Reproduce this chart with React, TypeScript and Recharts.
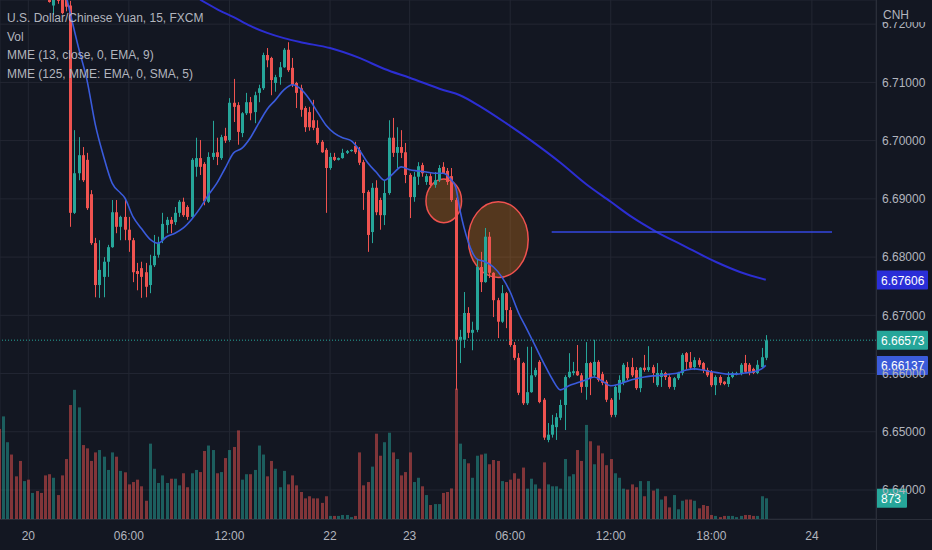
import React from "react";
import {
  Bar,
  CartesianGrid,
  ComposedChart,
  Line,
  ReferenceArea,
  ReferenceLine,
  XAxis,
  YAxis,
} from "recharts";

// USD/CNH 15m candles. Candle index 0 is the first
// (volume-only) bar at the left edge; the first 12 candles sit above the pane.
const FIRST_CANDLE = 12;

const open = [
  6.725, 6.7232, 6.725, 6.725, 6.7245, 6.7232, 6.6876, 6.6944, 6.6975, 6.6967,
  6.6908, 6.6824, 6.6752, 6.6766, 6.6792, 6.6817, 6.6877, 6.6852, 6.6869, 6.6847,
  6.6829, 6.6776, 6.6781, 6.6774, 6.6752, 6.6786, 6.6804, 6.6829, 6.6855, 6.6864,
  6.686, 6.6876, 6.6895, 6.6886, 6.6869, 6.6955, 6.697, 6.696, 6.6895, 6.6972,
  6.698, 6.697, 6.7008, 6.7001, 6.7065, 6.7061, 6.7013, 6.7047, 6.7066, 6.7049,
  6.7082, 6.709, 6.7147, 6.7142, 6.7099, 6.7109, 6.7126, 6.7156, 6.7125, 6.7099,
  6.709, 6.7056, 6.7049, 6.7035, 6.7022, 6.6998, 6.6984, 6.6953, 6.6972, 6.6967,
  6.697, 6.6979, 6.6982, 6.6991, 6.6984, 6.6963, 6.6912, 6.6843, 6.6919, 6.6898,
  6.6872, 6.691, 6.7005, 6.6979, 6.6989, 6.698, 6.6941, 6.6903, 6.6938, 6.6958,
  6.6929, 6.6939, 6.6924, 6.6932, 6.6955, 6.6948, 6.6939, 6.6898, 6.6658, 6.6658,
  6.6704, 6.667, 6.6675, 6.6783, 6.6757, 6.6835, 6.6773, 6.6726, 6.6689, 6.6738,
  6.6709, 6.6649, 6.6627, 6.6618, 6.6549, 6.6568, 6.6597, 6.662, 6.6555, 6.6486,
  6.6495, 6.6508, 6.6524, 6.6546, 6.6594, 6.6601, 6.6604, 6.6597, 6.6577, 6.6618,
  6.6597, 6.662, 6.6599, 6.6586, 6.6555, 6.6529, 6.6567, 6.6584, 6.6611, 6.6611,
  6.6606, 6.6575, 6.661, 6.6606, 6.6611, 6.658, 6.6594, 6.6601, 6.6594, 6.6577,
  6.6592, 6.6601, 6.6635, 6.662, 6.6611, 6.6623, 6.6618, 6.6606, 6.6603, 6.658,
  6.6594, 6.6586, 6.6582, 6.6594, 6.6599, 6.6601, 6.6618, 6.6615, 6.6608, 6.6601,
  6.6611, 6.6627,
];
const high = [
  6.7255, 6.725, 6.7255, 6.7255, 6.725, 6.724, 6.7018, 6.7006, 6.6989, 6.6979,
  6.6915, 6.6833, 6.6829, 6.68, 6.6821, 6.6898, 6.6898, 6.6871, 6.6898, 6.6869,
  6.6833, 6.679, 6.6792, 6.679, 6.6804, 6.6838, 6.6835, 6.6876, 6.6869, 6.6869,
  6.6886, 6.6898, 6.6902, 6.6889, 6.697, 6.7005, 6.7001, 6.6963, 6.698, 6.7034,
  6.7005, 6.701, 6.7022, 6.7073, 6.7106, 6.7066, 6.7049, 6.7082, 6.7075, 6.7084,
  6.7096, 6.7151, 6.7159, 6.7144, 6.7113, 6.7135, 6.7159, 6.7169, 6.7142, 6.7101,
  6.7096, 6.7059, 6.7058, 6.707, 6.7035, 6.7001, 6.6987, 6.6979, 6.6979, 6.6971,
  6.6986, 6.6984, 6.6985, 6.6998, 6.6989, 6.6967, 6.6915, 6.6927, 6.6932, 6.6902,
  6.6932, 6.7035, 6.7039, 6.7023, 6.7018, 6.6996, 6.6944, 6.6946, 6.6963, 6.6962,
  6.6943, 6.6944, 6.6946, 6.6958, 6.6963, 6.6953, 6.6953, 6.6902, 6.6675, 6.674,
  6.6714, 6.6689, 6.6795, 6.6809, 6.685, 6.6843, 6.6774, 6.673, 6.6752, 6.674,
  6.6714, 6.6654, 6.6635, 6.662, 6.6646, 6.6646, 6.661, 6.6623, 6.6558, 6.6515,
  6.6529, 6.6532, 6.6555, 6.6597, 6.6635, 6.662, 6.6649, 6.6601, 6.6654, 6.662,
  6.6658, 6.6623, 6.6603, 6.6589, 6.6558, 6.658, 6.6597, 6.6618, 6.662, 6.6627,
  6.6611, 6.6611, 6.6632, 6.6647, 6.6615, 6.6618, 6.6606, 6.6603, 6.6597, 6.6594,
  6.6603, 6.6635, 6.6637, 6.6637, 6.6628, 6.6627, 6.662, 6.661, 6.6606, 6.6597,
  6.6597, 6.6587, 6.6603, 6.6603, 6.6603, 6.6618, 6.6632, 6.6618, 6.661, 6.6623,
  6.6644, 6.6666,
];
const low = [
  6.7237, 6.7216, 6.7235, 6.7217, 6.7222, 6.6852, 6.6874, 6.6932, 6.6929, 6.6881,
  6.6821, 6.6731, 6.673, 6.6731, 6.6766, 6.6816, 6.6841, 6.6829, 6.6829, 6.6809,
  6.6757, 6.6743, 6.673, 6.6731, 6.6738, 6.6783, 6.6799, 6.6824, 6.6841, 6.6841,
  6.6855, 6.6869, 6.6869, 6.6864, 6.6867, 6.6938, 6.6941, 6.6889, 6.6893, 6.6967,
  6.6958, 6.6967, 6.6996, 6.6998, 6.7032, 6.6993, 6.7006, 6.7044, 6.7035, 6.703,
  6.7066, 6.7087, 6.7126, 6.7078, 6.7084, 6.7096, 6.7125, 6.7118, 6.7092, 6.7056,
  6.7041, 6.7015, 6.7017, 6.7018, 6.6993, 6.6979, 6.6876, 6.695, 6.6965, 6.6966,
  6.6969, 6.6977, 6.6981, 6.6977, 6.6958, 6.6881, 6.6809, 6.6824, 6.6872, 6.6847,
  6.6855, 6.6907, 6.6972, 6.6953, 6.697, 6.6927, 6.6867, 6.6895, 6.6924, 6.6938,
  6.6924, 6.6919, 6.6919, 6.6929, 6.6943, 6.6924, 6.6895, 6.6572, 6.6618, 6.6644,
  6.6661, 6.664, 6.6671, 6.674, 6.6756, 6.6764, 6.6697, 6.6661, 6.6687, 6.6678,
  6.6646, 6.6623, 6.6563, 6.6546, 6.6546, 6.6567, 6.6594, 6.6549, 6.6486, 6.6482,
  6.649, 6.6486, 6.652, 6.6503, 6.6592, 6.6597, 6.6596, 6.6567, 6.6555, 6.6563,
  6.6594, 6.6586, 6.658, 6.6551, 6.6525, 6.6525, 6.6555, 6.658, 6.6589, 6.6594,
  6.6572, 6.6568, 6.6603, 6.6603, 6.6584, 6.6577, 6.6577, 6.6589, 6.6574, 6.6572,
  6.6589, 6.6597, 6.6606, 6.6606, 6.6606, 6.6611, 6.6601, 6.6594, 6.6577, 6.6563,
  6.658, 6.658, 6.6577, 6.6592, 6.6597, 6.6597, 6.6601, 6.6597, 6.6599, 6.6599,
  6.661, 6.6623,
];
const close = [
  6.7238, 6.7246, 6.724, 6.7219, 6.723, 6.6876, 6.6944, 6.6975, 6.6932, 6.6884,
  6.6824, 6.6752, 6.6778, 6.6792, 6.6817, 6.6877, 6.6852, 6.6869, 6.6847, 6.6829,
  6.6774, 6.6771, 6.6766, 6.6749, 6.6786, 6.6802, 6.6824, 6.6857, 6.6864, 6.6857,
  6.6876, 6.6895, 6.6872, 6.6869, 6.6967, 6.697, 6.6955, 6.6896, 6.6972, 6.6979,
  6.6972, 6.7006, 6.7, 6.7065, 6.7058, 6.7015, 6.7047, 6.7066, 6.7047, 6.7078,
  6.709, 6.7147, 6.7138, 6.7104, 6.7109, 6.7126, 6.7156, 6.7121, 6.7096, 6.7082,
  6.7053, 6.7023, 6.7023, 6.7022, 6.6996, 6.698, 6.6953, 6.6972, 6.6967, 6.697,
  6.6979, 6.6982, 6.6984, 6.698, 6.6962, 6.691, 6.6838, 6.6919, 6.6877, 6.6872,
  6.691, 6.7005, 6.6979, 6.6989, 6.6979, 6.6941, 6.6903, 6.6938, 6.6956, 6.6944,
  6.6939, 6.6924, 6.6932, 6.6953, 6.6944, 6.6929, 6.6898, 6.6658, 6.6663, 6.6704,
  6.667, 6.6675, 6.6783, 6.6757, 6.6835, 6.6773, 6.6726, 6.6689, 6.6738, 6.6709,
  6.6649, 6.6627, 6.6567, 6.6549, 6.6568, 6.6597, 6.6606, 6.6551, 6.649, 6.6495,
  6.6512, 6.6525, 6.6546, 6.6594, 6.6603, 6.6604, 6.6597, 6.6577, 6.6618, 6.6592,
  6.662, 6.6589, 6.6584, 6.6555, 6.6529, 6.6577, 6.6589, 6.6615, 6.6592, 6.6597,
  6.6575, 6.661, 6.6606, 6.6611, 6.6601, 6.6601, 6.6601, 6.6594, 6.6577, 6.6592,
  6.6601, 6.6632, 6.662, 6.661, 6.6623, 6.6615, 6.6606, 6.6597, 6.658, 6.6594,
  6.6584, 6.6582, 6.6594, 6.6601, 6.6601, 6.6615, 6.6603, 6.6603, 6.6601, 6.6615,
  6.6628, 6.6657,
];
// colour of the volume bars whose candle is off the top of the pane
const earlyUp = [false, true, true, false, false, false, true, false, true, false, false, false];

const volume = [
  3800, 4330, 3240, 2720, 1800, 2450, 1600, 1660, 1100, 1180, 1100, 1840, 1890, 1740,
  1010, 1840, 2530, 4810, 5450, 4710, 3120, 2980, 2450, 2810, 2910, 2630, 2070, 2810,
  2630, 2030, 1970, 1460, 1560, 1660, 1380, 770, 3180, 2120, 1520, 1840, 1520, 1700,
  1700, 1420, 1930, 1340, 1930, 2070, 1980, 2870, 3100, 2910, 1930, 1980, 2570, 2910,
  3040, 3740, 1660, 1890, 1890, 2070, 3100, 2720, 1800, 2450, 2120, 1340, 2030, 1460,
  1840, 1420, 1140, 870, 960, 870, 870, 680, 960, 130, 130, 130, 170, 170,
  80, 130, 2810, 1420, 1560, 2210, 3600, 2670, 3240, 3640, 2810, 2530, 1840, 1980,
  2810, 1560, 1740, 1380, 1010, 590, 630, 630, 1100, 1140, 1290, 5500, 3180, 2530,
  2350, 1740, 2670, 2720, 2760, 2310, 2490, 2450, 1600, 1560, 1660, 1930, 1700, 2170,
  1280, 1700, 1460, 1280, 2390, 1460, 1380, 1380, 1280, 2530, 1800, 1890, 2910, 2450,
  3970, 3280, 2310, 3100, 2770, 2270, 2530, 1930, 1740, 1280, 1240, 1460, 1340, 1600,
  960, 1600, 1200, 1280, 820, 960, 490, 1010, 410, 770, 820, 820, 770, 450,
  590, 550, 170, 130, 80, 130, 130, 130, 80, 130, 170, 170, 130, 130,
  960, 873,
];

// MME (13, close, 0, EMA, 9): [candle index, price]
const ema13 = [
  [16, 6.725], [19, 6.7159], [21, 6.7104], [23, 6.7027], [25, 6.6972], [27, 6.6927],
  [29, 6.691], [30, 6.6902], [32, 6.6869], [34, 6.6849], [36, 6.6831], [38, 6.6824],
  [40, 6.6835], [42, 6.6841], [44, 6.685], [46, 6.6865], [48, 6.6884], [50, 6.6907],
  [52, 6.6927], [54, 6.6953], [56, 6.6979], [58, 6.6987], [60, 6.7005], [62, 6.703],
  [64, 6.7054], [66, 6.707], [68, 6.7087], [70, 6.7096], [72, 6.7089], [74, 6.7072],
  [76, 6.7049], [78, 6.7027], [80, 6.7013], [82, 6.7005], [84, 6.7], [86, 6.6984],
  [88, 6.6962], [90, 6.6946], [92, 6.6932], [94, 6.6943], [96, 6.6955], [98, 6.695],
  [100, 6.6948], [102, 6.6946], [104, 6.6944], [106, 6.6944], [108, 6.6932], [109, 6.692],
  [110, 6.6881], [112, 6.6826], [114, 6.6797], [116, 6.6792], [118, 6.6783], [120, 6.6766],
  [122, 6.674], [124, 6.6704], [126, 6.6676], [128, 6.6647], [130, 6.6618], [132, 6.6591],
  [134, 6.6572], [136, 6.6579], [138, 6.6584], [140, 6.6589], [142, 6.6594], [144, 6.6587],
  [146, 6.6579], [148, 6.6582], [150, 6.6587], [152, 6.6591], [154, 6.6594], [156, 6.6596],
  [158, 6.6597], [160, 6.6599], [162, 6.6601], [164, 6.6606], [166, 6.6608], [168, 6.6606],
  [170, 6.6603], [172, 6.6601], [174, 6.6599], [176, 6.6599], [178, 6.6601], [180, 6.6603],
  [182, 6.6608], [183, 6.6614],
];

// MME (125, MME: EMA, 0, SMA, 5)
const sma125 = [
  [48, 6.7242], [52, 6.7226], [56, 6.7212], [60, 6.7197], [64, 6.7185], [68, 6.7176],
  [72, 6.7169], [79, 6.7159], [86, 6.7142], [92, 6.7123], [98, 6.7108], [106, 6.7087],
  [110, 6.7078], [115, 6.7058], [121, 6.703], [127, 6.7], [134, 6.6962], [140, 6.6926],
  [146, 6.6895], [151, 6.6869], [157, 6.6843], [163, 6.6821], [171, 6.6792], [177, 6.6774],
  [183, 6.6761],
];

const timeTicks = [7, 31, 55, 79, 98, 122, 146, 170, 194];
const timeLabels = ["20", "06:00", "12:00", "22", "23", "06:00", "12:00", "18:00", "24"];
const priceTicks = [6.64, 6.65, 6.66, 6.67, 6.68, 6.69, 6.7, 6.71, 6.72];

// drawings on the chart
const trendLine = { from: 131.9, to: 198.8, price: 6.6843 };
const circles = [
  { x1: 101.9, x2: 110.4, y1: 6.6859, y2: 6.6934 },
  { x1: 112.0, x2: 126.3, y1: 6.6765, y2: 6.6895 },
];

const lastClose = 6.66573;
const lastEma = 6.66137;
const lastSma = 6.67606;
const lastVolume = 873;

const BG = "#131722";
const UP = "#26a69a";
const DOWN = "#ef5350";
const TEXT = "#b2b5be";
const EMA_COLOR = "#3a5bdc";
const SMA_COLOR = "#2c2ed2";
const FONT = "'Liberation Sans', Arial, sans-serif";

const rows = volume.map((v, i) => {
  const k = i - FIRST_CANDLE;
  const has = k >= 0;
  return {
    i,
    o: has ? open[k] : null,
    h: has ? high[k] : null,
    l: has ? low[k] : null,
    c: has ? close[k] : null,
    v,
    up: has ? close[k] >= open[k] : earlyUp[i],
    ema: null as number | null,
    sma: null as number | null,
  };
});
ema13.forEach(([i, val]) => (rows[i].ema = val));
sma125.forEach(([i, val]) => (rows[i].sma = val));

function Candle(props: any) {
  const { x, y, width, height, payload } = props;
  if (payload.o == null || !isFinite(y) || !isFinite(height)) return null;
  const { o, h, l, c } = payload;
  const color = c >= o ? UP : DOWN;
  const top = Math.min(y, y + height);
  const bottom = Math.max(y, y + height);
  const span = h - l || 1e-9;
  const py = (val: number) => top + ((h - val) / span) * (bottom - top);
  const bx = Math.round(x);
  const b1 = py(Math.max(o, c));
  const b2 = py(Math.min(o, c));
  return (
    <g>
      <rect x={bx + 1} y={top} width={1} height={bottom - top} fill={color} />
      <rect x={bx} y={b1} width={width} height={Math.max(1, b2 - b1)} fill={color} />
    </g>
  );
}

function VolumeBar(props: any) {
  const { x, y, width, height, payload } = props;
  if (!isFinite(y) || !height) return null;
  return (
    <rect
      x={Math.round(x)}
      y={y}
      width={width}
      height={height}
      fill={payload.up ? "rgba(38,166,154,0.5)" : "rgba(239,83,80,0.5)"}
    />
  );
}

function Ellipse(props: any) {
  const { x, y, width, height } = props;
  return (
    <ellipse
      cx={x + width / 2}
      cy={y + height / 2}
      rx={width / 2}
      ry={height / 2}
      fill="rgba(255,140,20,0.28)"
      stroke="#f0524f"
      strokeWidth={1.5}
    />
  );
}

const tag = (text: string, bg: string, w: number) => (p: any) => {
  const { x, y, width } = p.viewBox;
  return (
    <g>
      <rect x={x + width} y={y - 9.5} width={w} height={19} fill={bg} rx={1} />
      <text x={x + width + 5} y={y + 4.5} fill="#ffffff" fontSize={12} fontFamily={FONT}>
        {text}
      </text>
    </g>
  );
};

export default function App() {
  return (
    <div style={{ position: "absolute", left: 0, top: 0, width: 932, height: 550, background: BG, fontFamily: FONT }}>
      <ComposedChart width={932} height={550} data={rows} margin={{ top: 0, right: 0, bottom: 0, left: 0 }}>
        <CartesianGrid stroke="#232733" strokeWidth={1} />
        <XAxis
          dataKey="i"
          type="number"
          domain={[0.24, 209.3]}
          allowDataOverflow
          ticks={timeTicks}
          interval={0}
          tickFormatter={(v) => timeLabels[timeTicks.indexOf(v)] ?? ""}
          height={31}
          axisLine={false}
          tickLine={false}
          tickMargin={6}
          tick={{ fill: TEXT, fontSize: 12, fontFamily: FONT }}
        />
        <XAxis xAxisId="vx" dataKey="i" type="number" domain={[0.24, 209.3]} allowDataOverflow hide />
        <YAxis
          orientation="right"
          type="number"
          domain={[6.63502, 6.72415]}
          allowDataOverflow
          ticks={priceTicks}
          interval={0}
          tickFormatter={(v) => v.toFixed(5)}
          width={56}
          axisLine={false}
          tickLine={false}
          tickMargin={0}
          tick={{ fill: TEXT, fontSize: 12, fontFamily: FONT, textAnchor: "start" }}
        />
        <YAxis yAxisId="vy" type="number" domain={[0, 21900]} hide />

        <Bar
          xAxisId="vx"
          yAxisId="vy"
          dataKey="v"
          barSize={3}
          shape={VolumeBar}
          isAnimationActive={false}
        />

        {circles.map((m, n) => (
          <ReferenceArea key={n} x1={m.x1} x2={m.x2} y1={m.y1} y2={m.y2} shape={Ellipse} />
        ))}

        <Line
          dataKey="sma"
          type="monotone"
          stroke={SMA_COLOR}
          strokeWidth={2}
          dot={false}
          activeDot={false}
          connectNulls
          isAnimationActive={false}
        />
        <Line
          dataKey="ema"
          type="monotone"
          stroke={EMA_COLOR}
          strokeWidth={1.6}
          dot={false}
          activeDot={false}
          connectNulls
          isAnimationActive={false}
        />

        <Bar
          dataKey={(d: any) => (d.o == null ? null : [d.l, d.h])}
          barSize={3}
          shape={Candle}
          isAnimationActive={false}
        />

        <ReferenceLine
          segment={[
            { x: trendLine.from, y: trendLine.price },
            { x: trendLine.to, y: trendLine.price },
          ]}
          stroke="#3447e0"
          strokeWidth={1.5}
        />
        <ReferenceLine y={lastClose} stroke={UP} strokeDasharray="1 2" label={tag("6.66573", UP, 52)} />
        <ReferenceLine y={lastSma} stroke="none" label={tag("6.67606", "#2a2ed8", 52)} />
        <ReferenceLine y={lastEma} stroke="none" label={tag("6.66137", "#3b5bd9", 52)} />
        <ReferenceLine
          xAxisId="vx"
          yAxisId="vy"
          y={lastVolume}
          stroke="none"
          label={tag("873", UP, 31)}
        />
      </ComposedChart>

      {/* pane borders */}
      <div style={{ position: "absolute", left: 876, top: 0, width: 1, height: 550, background: "#2a2e39" }} />
      <div style={{ position: "absolute", left: 0, top: 519, width: 932, height: 1, background: "#2a2e39" }} />

      <div
        style={{
          position: "absolute",
          left: 877,
          top: 0,
          width: 55,
          height: 22,
          background: BG,
          color: TEXT,
          fontSize: 12,
          lineHeight: "30px",
          paddingLeft: 6,
          boxSizing: "border-box",
        }}
      >
        CNH
      </div>

      <div
        style={{
          position: "absolute",
          left: 7,
          top: 9,
          color: TEXT,
          fontSize: 12,
          lineHeight: "18.5px",
          whiteSpace: "nowrap",
        }}
      >
        <div>U.S. Dollar/Chinese Yuan, 15, FXCM</div>
        <div>Vol</div>
        <div>MME (13, close, 0, EMA, 9)</div>
        <div>MME (125, MME: EMA, 0, SMA, 5)</div>
      </div>
    </div>
  );
}
